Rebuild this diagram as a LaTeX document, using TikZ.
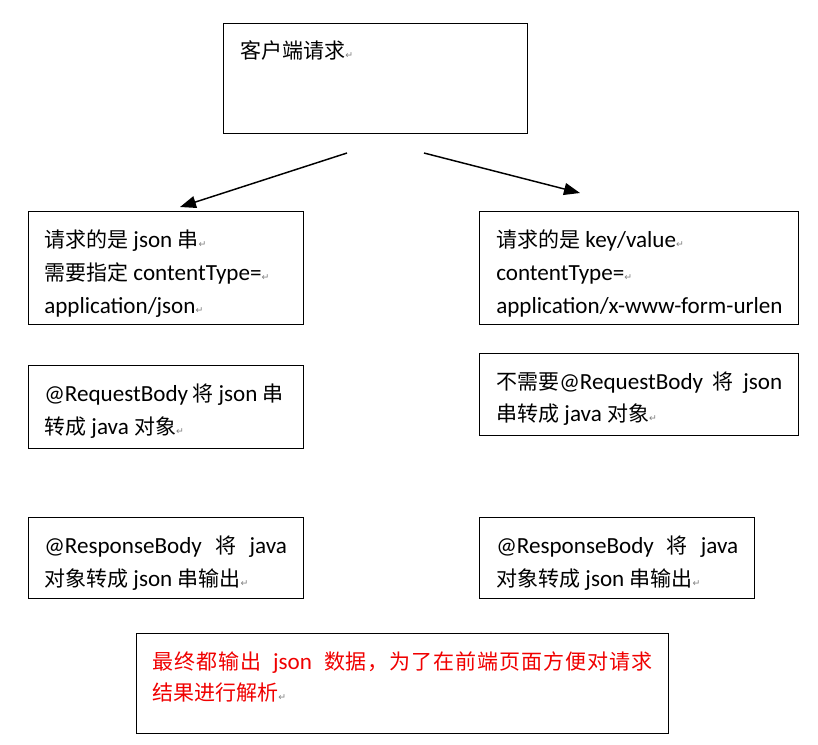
\documentclass[tikz,border=0pt]{standalone}
\usepackage{fontspec}
\setmainfont{Carlito}[Scale=1.1]
\newfontfamily\cjk{Noto Sans CJK SC}
\newfontfamily\cjkloose{Noto Sans CJK SC}[LetterSpace=4.5]
\newfontfamily\symf{DejaVu Sans}
\usetikzlibrary{arrows.meta}
\newcommand\zh[1]{{\cjk #1}}
\newcommand\zhl[1]{{\cjkloose #1}}
\newcommand\parmark{{\symf\fontsize{7}{7}\selectfont\textcolor{gray}{↵}}}
\definecolor{redtxt}{RGB}{240,0,0}
\begin{document}
\begin{tikzpicture}[x=0.75pt,y=-0.75pt,
  box/.style={draw=black,line width=1.1pt,inner sep=0pt,anchor=north west},
  txt/.style={anchor=base west,inner sep=0pt,font=\fontsize{15.75}{18}\selectfont},
  arr/.style={line width=1.1pt,-{Triangle[length=12pt,width=9pt]}}]
\useasboundingbox[fill=white] (0,0) rectangle (818,744);

% boxes
\node[box,minimum width=228pt,minimum height=82.5pt] (top) at (223,23) {};
\node[box,minimum width=206pt,minimum height=84.75pt] (l1) at (28,211) {};
\node[box,minimum width=239.25pt,minimum height=84.75pt] (r1) at (479,211) {};
\node[box,minimum width=206pt,minimum height=62.25pt] (l2) at (28,365) {};
\node[box,minimum width=239.25pt,minimum height=61.5pt] (r2) at (479,353) {};
\node[box,minimum width=206pt,minimum height=60.75pt] (l3) at (28,517) {};
\node[box,minimum width=206.25pt,minimum height=60.75pt] (r3) at (479,517) {};
\node[box,minimum width=399pt,minimum height=75pt] (bot) at (136,633) {};

% texts
\node[txt] (ttop) at (240,58) {\zh{客户端请求}\parmark};

\node[txt] (l1a) at (44,247) {\zh{请求的是} json \zh{串}\parmark};
\node[txt] (l1b) at (44,280) {\zh{需要指定} contentType=\parmark};
\node[txt] (l1c) at (44,313) {application/json\parmark};

\node[txt] (r1a) at (496,247) {\zh{请求的是} key/value\parmark};
\node[txt] (r1b) at (496,280) {contentType=\parmark};
\node[txt] (r1c) at (496,313) {application/x-www-form-urlen};

\node[txt] (l2a) at (44,401) {\makebox[179.25pt][s]{@RequestBody \zh{将} json \zh{串}}};
\node[txt] (l2b) at (44,434) {\zh{转成} java \zh{对象}\parmark};

\node[txt] (r2a) at (496,389) {\makebox[214.5pt][s]{\zh{不需要}@RequestBody \zh{将} json}};
\node[txt] (r2b) at (496,421) {\zh{串转成} java \zh{对象}\parmark};

\node[txt] (l3a) at (44,553) {\makebox[182pt][s]{@ResponseBody \zh{将} java}};
\node[txt] (l3b) at (44,586) {\zh{对象转成} json \zh{串输出}\parmark};

\node[txt] (r3a) at (496,553) {\makebox[181.5pt][s]{@ResponseBody \zh{将} java}};
\node[txt] (r3b) at (496,586) {\zh{对象转成} json \zh{串输出}\parmark};

\node[txt,text=redtxt] (bota) at (152,669) {\makebox[375pt][s]{\zhl{最终都输出} json \zhl{数据，为了在前端页面方便对请求}}};
\node[txt,text=redtxt] (botb) at (152,700) {\zh{结果进行解析}\parmark};

% arrows
\coordinate (s1) at (347,153);
\coordinate (e1) at (180,207);
\coordinate (s2) at (424,153);
\coordinate (e2) at (580,193);
\draw[arr] (s1) -- (e1);
\draw[arr] (s2) -- (e2);
\end{tikzpicture}
\end{document}
